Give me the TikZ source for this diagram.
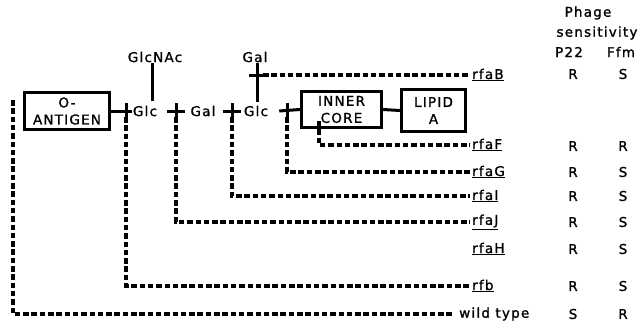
\documentclass[tikz,border=0pt]{standalone}
\usepackage{fontspec}
\setmainfont{DejaVu Sans}[LetterSpace=9, FakeBold=1.2]
\begin{document}
\begin{tikzpicture}[x=1pt,y=-1pt,
  txt/.style={font=\fontsize{13.5}{17}\selectfont, inner sep=1pt},
  boxn/.style={draw, line width=3.2pt, align=center, font=\fontsize{13.5}{17}\selectfont, inner sep=0pt},
  solidl/.style={line width=3pt},
  dashl/.style={line width=3.2pt, dash pattern=on 5.5pt off 2.8pt},
  gene/.style={txt, anchor=west, inner sep=2pt},
  col/.style={txt},
]
\useasboundingbox (0,0) rectangle (642,325);

% header
\node[txt] (hphage) at (588,13) {Phage};
\node[txt] (hsens) at (597,33) {sensitivity};
\node[txt] (hp22) at (569,52) {P22};
\node[txt] (hffm) at (621,52) {Ffm};

% boxes
\node[boxn, minimum width=85pt, minimum height=37pt] (oant) at (67,111) {O-\\ANTIGEN};
\node[boxn, minimum width=80pt, minimum height=36pt] (inner) at (341.5,109.5) {INNER\\CORE};
\node[boxn, minimum width=64pt, minimum height=42pt] (lipid) at (433.5,110.5) {LIPID\\A};

% sugars
\node[txt] (glc1) at (145,111) {Glc};
\node[txt] (gal1) at (203,111) {Gal};
\node[txt] (glc2) at (256,111) {Glc};
\node[txt] (glcnac) at (155,57) {GlcNAc};
\node[txt] (gal2) at (255,57) {Gal};

% gene labels
\node[gene] (rfaB) at (470,75) {\underline{rfaB}};
\node[gene] (rfaF) at (470,145) {\underline{rfaF}};
\node[gene] (rfaG) at (470,172) {\underline{rfaG}};
\node[gene] (rfaI) at (470,196) {\underline{rfaI}};
\node[gene] (rfaJ) at (470,222) {\underline{rfaJ}};
\node[gene] (rfaH) at (470,249) {\underline{rfaH}};
\node[gene] (rfb) at (470,286) {\underline{rfb}};
\node[gene] (wild) at (457,314) {wild type};

% sensitivity columns
\foreach \n/\y/\a/\b in {B/74/R/S, F/146/R/R, G/172/R/S, I/196/R/S, J/222/R/S, H/249/R/S, b/286/R/S, w/314/S/R}{
  \node[col] (p\n) at (573,\y) {\a};
  \node[col] (f\n) at (623,\y) {\b};
}

% main chain
\draw[solidl] (oant.east) -- (glc1.west);
\draw[solidl] ([xshift=9pt]glc1.east) -- ([xshift=-4pt]gal1.west);
\draw[solidl] ([xshift=6pt]gal1.east) -- ([xshift=-2pt]glc2.west);
\draw[solidl] ([xshift=10pt]glc2.east) -- (inner.west);
\draw[solidl] (inner.east) -- (lipid.west);

% branches
\draw[solidl, shorten >=4pt] ([xshift=-3pt]glcnac.south) -- ([xshift=-3pt]glcnac.south |- glc1.north);
\draw[solidl, shorten >=3pt] ([xshift=2pt]gal2.south) -- ([xshift=2pt]gal2.south |- glc2.north);

% tick coordinates
\coordinate (t1a) at (126,103); \coordinate (t1b) at (126,117);
\coordinate (t2a) at (176,103); \coordinate (t2b) at (176,117);
\coordinate (t3a) at (232,103); \coordinate (t3b) at (232,117);
\coordinate (t4a) at (287,103); \coordinate (t4b) at (287,117);
\coordinate (ba) at (249,75); \coordinate (bb) at (263,75);
\coordinate (fs) at (319,121);
\coordinate (ws) at (13,100);

\foreach \t in {1,2,3,4}{\draw[solidl] (t\t a) -- (t\t b);}
\draw[solidl] (ba) -- (bb);

% dashed connectors
\draw[dashl] (bb) -- (rfaB.west);
\draw[dashl] (fs) |- (rfaF.west);
\draw[dashl] (t4b) |- (rfaG.west);
\draw[dashl] (t3b) |- (rfaI.west);
\draw[dashl] (t2b) |- (rfaJ.west);
\draw[dashl] (t1b) |- (rfb.west);
\draw[dashl, shorten >=3pt] (ws) |- (wild.west);
\end{tikzpicture}
\end{document}
